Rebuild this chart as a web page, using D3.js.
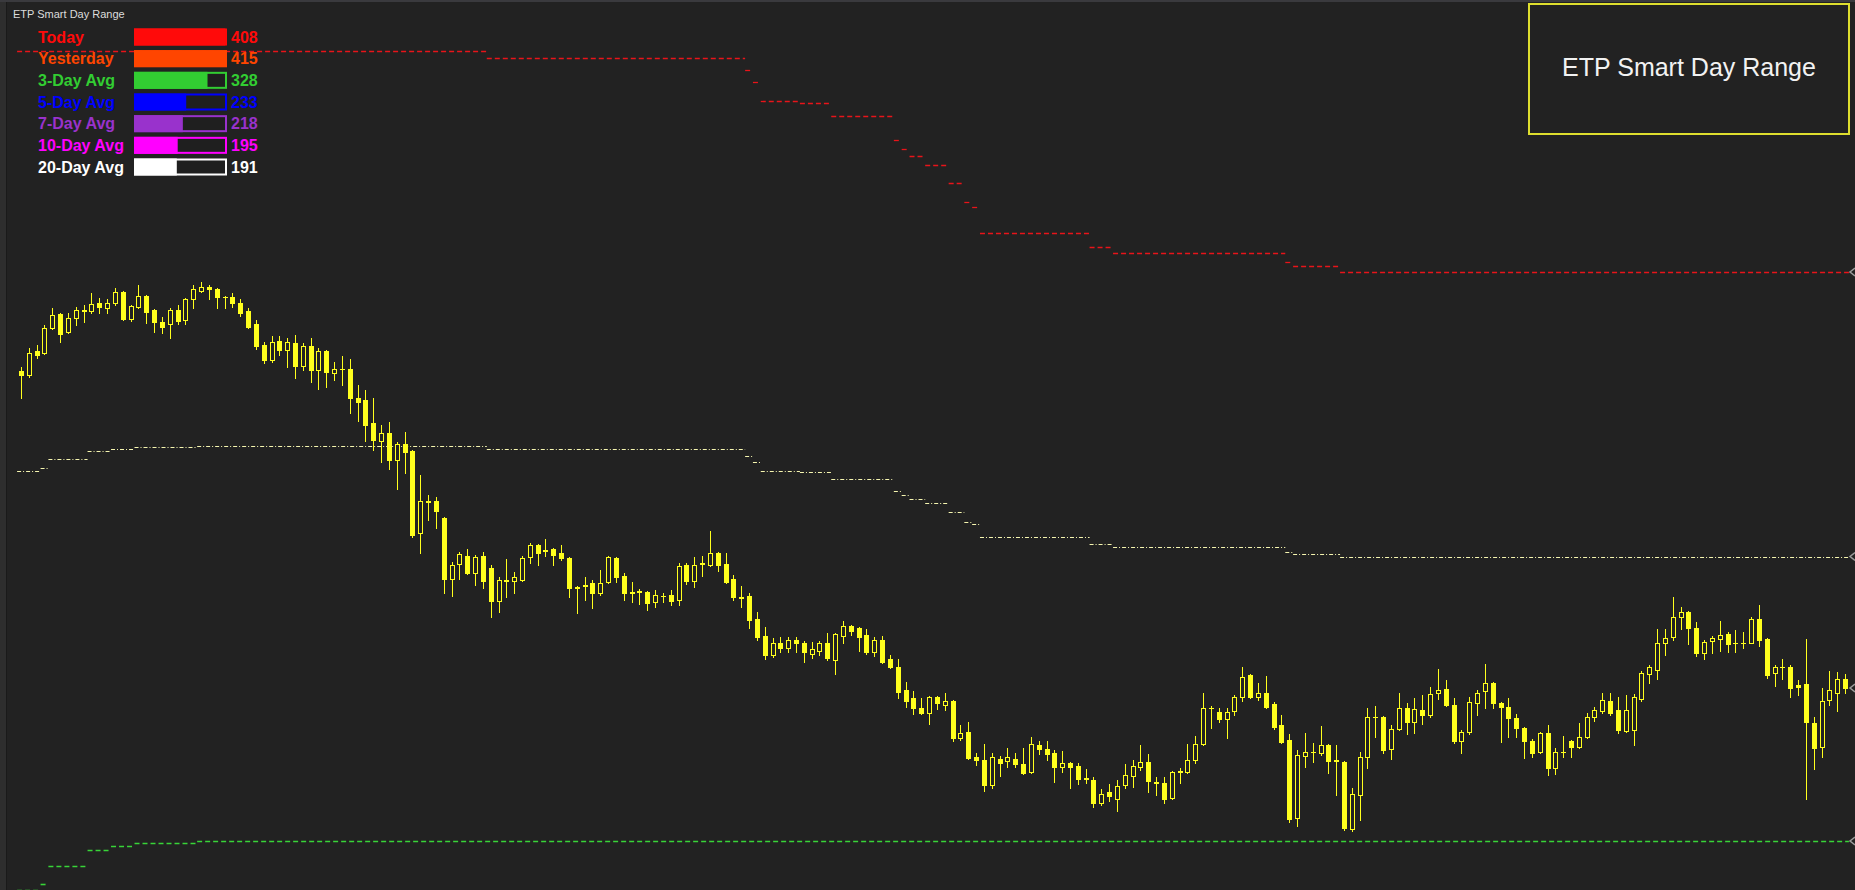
<!DOCTYPE html>
<html><head><meta charset="utf-8">
<script src="https://cdn.jsdelivr.net/npm/d3@7"></script>
<style>html,body{margin:0;padding:0;background:#222;overflow:hidden}</style>
</head><body>
<svg id="c" width="1855" height="890"></svg>
<script>
// ---- Candle data (price in points) ----
const opens = [
629,625,649,647,672,686,668,682,689,689,
697,692,697,708,681,693,704,690,678,676,
690,680,701,709,713,711,703,703,697,689,
676,655,640,659,650,657,634,654,630,649,
627,631,631,602,600,577,559,567,540,556,
549,467,499,499,482,421,436,444,427,444,
432,399,419,419,420,443,455,449,451,447,
442,413,414,417,407,418,442,424,408,408,
408,398,404,405,400,435,419,436,435,447,
436,421,403,404,381,364,345,357,352,360,
357,346,349,357,340,364,374,372,365,348,
360,341,333,310,302,292,287,303,295,299,
262,268,243,240,215,241,239,241,236,228,
255,251,247,233,237,234,222,220,197,208,
201,215,224,233,238,218,217,202,228,228,
240,256,292,288,281,289,303,325,303,307,
296,275,260,182,244,248,247,255,240,238,
171,205,243,283,283,251,271,292,278,290,
285,307,311,295,259,268,297,309,317,297,
293,282,272,259,248,267,232,248,259,253,
263,283,289,299,290,269,270,301,326,330,
357,363,383,388,372,347,359,361,366,357,
357,357,381,361,327,333,333,315,316,277,
253,300,307,321];
const highs = [
633,652,655,675,692,687,687,693,695,707,
702,701,712,709,695,715,705,691,683,692,
695,702,715,718,715,712,704,707,701,692,
680,658,664,664,662,665,657,662,652,650,
638,644,641,615,610,602,575,578,558,568,
550,525,505,503,483,438,448,451,445,448,
435,423,441,428,444,457,456,461,452,455,
443,414,423,420,430,444,443,427,418,411,
409,410,407,410,437,437,443,444,469,448,
447,425,414,407,388,373,362,363,363,363,
359,358,359,367,367,379,375,373,371,363,
364,345,341,318,309,302,304,304,307,300,
275,278,247,256,247,244,252,247,252,263,
259,259,250,249,238,237,231,223,211,216,
220,236,240,255,246,223,223,229,232,256,
264,307,294,292,292,305,333,326,317,324,
298,285,266,250,267,257,274,256,255,239,
212,248,292,294,284,275,307,297,302,305,
313,331,320,302,270,303,310,336,318,298,
302,286,273,261,268,275,252,264,260,277,
287,293,307,307,303,305,306,329,335,371,
371,403,393,389,378,360,364,379,368,370,
368,383,395,362,335,341,335,320,361,283,
312,329,328,326];
const lows = [
602,623,642,646,671,658,667,675,678,687,
687,687,695,680,679,692,677,668,667,662,
676,676,692,708,701,692,692,693,684,672,
651,637,638,645,633,622,630,618,611,613,
620,615,587,579,559,550,538,531,511,527,
463,447,480,472,407,404,421,426,415,412,
383,388,403,407,419,437,435,444,435,440,
403,387,400,392,405,417,418,400,398,396,
390,393,398,395,395,416,413,424,434,429,
417,400,393,372,360,341,343,348,348,348,
338,342,345,340,326,357,365,349,346,344,
337,332,302,293,286,286,276,291,290,259,
260,241,235,209,212,224,233,233,226,227,
246,240,218,228,212,216,217,193,195,199,
189,212,213,230,208,205,197,201,217,227,
237,255,272,278,262,285,299,302,300,292,
271,257,178,174,233,238,245,227,205,170,
169,180,232,263,247,241,270,266,267,276,
283,301,294,257,247,266,285,292,292,258,
263,263,242,243,247,225,226,243,243,252,
262,279,287,285,267,268,255,299,317,321,
345,360,371,356,344,341,347,349,348,348,
352,357,354,322,314,321,303,305,201,231,
243,295,289,307];
const closes = [
625,647,645,672,685,666,682,690,690,696,
693,697,708,681,694,704,688,678,673,690,
679,701,711,713,711,703,703,697,687,673,
654,640,658,650,658,634,654,630,649,628,
631,631,602,598,575,560,567,540,556,548,
465,499,498,489,421,435,446,427,443,419,
399,420,420,423,442,455,447,450,445,442,
412,412,415,407,417,443,423,407,407,409,
397,405,404,399,434,419,435,437,447,435,
418,403,402,380,363,345,357,352,360,357,
348,351,357,342,366,374,369,363,348,360,
338,333,308,299,292,287,303,297,299,262,
267,242,240,215,243,237,243,236,227,256,
251,246,233,237,233,221,221,197,206,204,
214,225,234,238,219,217,201,228,229,240,
256,292,292,281,288,303,323,303,307,293,
273,258,181,245,248,248,255,239,239,172,
206,243,283,283,250,271,292,278,291,285,
306,310,295,259,268,298,307,317,297,293,
282,272,259,247,267,232,248,248,253,263,
283,290,300,287,270,290,303,327,333,357,
362,383,388,372,347,358,362,365,356,357,
357,381,360,325,333,333,312,313,278,252,
299,310,321,312];

// ---- Indicator levels: [firstBar, lastBar, price] ----
const upperRuns = [[0,59,949],[60,92,942],[93,93,930],[94,94,918],[95,99,899],[100,103,897],
  [104,111,884],[112,112,860],[113,113,851],[114,115,844],[116,118,835],[119,120,817],
  [121,121,798],[122,122,793],[123,136,767],[137,139,753],[140,161,747],[162,162,738],
  [163,168,734],[169,233,728]];
const midRuns = [[0,2,529],[3,3,532.5],[4,8,541.5],[9,11,549.5],[12,14,551.5],[15,22,553],
  [23,59,554],[60,92,550.5],[93,93,544.5],[94,94,538.5],[95,99,529],[100,103,528],
  [104,111,521.5],[112,112,509.5],[113,113,505],[114,115,501.5],[116,118,497],[119,120,488],
  [121,121,478.5],[122,122,476],[123,136,463],[137,139,456],[140,161,453],[162,162,448.5],
  [163,168,446.5],[169,233,443.5]];
const lowerRuns = [[0,2,110],[3,3,116],[4,8,134],[9,11,150],[12,14,154],[15,22,157],[23,233,159]];

// ---- Legend ----
const legendLabels = ["Today","Yesterday","3-Day Avg","5-Day Avg","7-Day Avg","10-Day Avg","20-Day Avg"];
const legendValues = [408,415,328,233,218,195,191];
const legendColors = ["#ff0a0a","#ff4500","#32cd32","#0000ff","#9932cc","#ff00ff","#ffffff"];
const indicatorName = "ETP Smart Day Range";

// ---- Drawing ----
const W = 1855, H = 890, BG = "#222222", CANDLE = "#ffff1e";
const svg = d3.select("#c");
svg.append("rect").attr("width", W).attr("height", H).attr("fill", BG);

const n = opens.length;
const x = d3.scaleLinear().domain([0, n - 1]).range([21, 1845]);
const y = d3.scaleLinear().domain([110, 1000]).range([H, 0]);
const step = x(1) - x(0);
const px = v => Math.round(v) + 0.5;

// frame
svg.append("rect").attr("x",0).attr("y",0).attr("width",6).attr("height",H).attr("fill","#2e2e2e");
svg.append("line").attr("x1",6.5).attr("x2",6.5).attr("y1",0).attr("y2",H).attr("stroke","#1a1a1a");
svg.append("rect").attr("x",0).attr("y",0).attr("width",W).attr("height",2).attr("fill","#3a3a3e");

// indicator step lines
const lineGen = d3.line();
function drawRuns(runs, color, dash, width) {
  svg.append("g").selectAll("path").data(runs).join("path")
    .attr("d", r => lineGen([[x(r[0]) - step / 2, px(y(r[2]))], [x(r[1]) + step / 2, px(y(r[2]))]]))
    .attr("fill", "none").attr("stroke", color).attr("stroke-width", width)
    .attr("stroke-dasharray", dash);
}
drawRuns(upperRuns, "#e8141a", "5,3", 1.3);
drawRuns(midRuns, "#f6f6b0", "4,2,1,2", 1.2);
drawRuns(lowerRuns, "#38d438", "5,3", 1.6);

// candles
const idx = d3.range(n);
const cg = svg.append("g");
cg.selectAll("line").data(idx).join("line")
  .attr("x1", i => Math.round(x(i)) + 0.5).attr("x2", i => Math.round(x(i)) + 0.5)
  .attr("y1", i => Math.round(y(highs[i]))).attr("y2", i => Math.round(y(lows[i])) + 1)
  .attr("stroke", CANDLE).attr("stroke-width", 1);
cg.selectAll("rect").data(idx).join("rect")
  .each(function (i) {
    const cx = Math.round(x(i));
    const top = Math.round(y(Math.max(opens[i], closes[i])));
    const bot = Math.round(y(Math.min(opens[i], closes[i])));
    const bear = closes[i] < opens[i];
    const r = d3.select(this);
    if (bear || bot - top < 2) {
      r.attr("x", cx - 2).attr("y", top).attr("width", 5).attr("height", Math.max(1, bot - top + 1))
       .attr("fill", CANDLE);
    } else {
      r.attr("x", cx - 1.5).attr("y", top + 0.5).attr("width", 4).attr("height", bot - top)
       .attr("fill", BG).attr("stroke", CANDLE).attr("stroke-width", 1);
    }
  });

// right-edge markers
const ends = [upperRuns[upperRuns.length - 1][2], midRuns[midRuns.length - 1][2],
  lowerRuns[lowerRuns.length - 1][2], closes[n - 1]];
svg.append("g").selectAll("path").data(ends).join("path")
  .attr("d", v => { const yy = y(v); return `M1855,${yy - 4}L1850,${yy}L1855,${yy + 4}`; })
  .attr("fill", "none").attr("stroke", "#9a9a9a").attr("stroke-width", 1.5);

// small indicator name
svg.append("text").attr("x", 13).attr("y", 18).text(indicatorName)
  .attr("font-family", "'Liberation Sans', Arial, sans-serif").attr("font-size", 11).attr("fill", "#dcdcdc");

// legend
const rowY = d3.scalePoint().domain(legendLabels).range([37, 167]);
const barX = 134, barW = 93, barH = 17;
const bw = d3.scaleLinear().domain([0, d3.max(legendValues)]).range([0, barW]);
const lg = svg.append("g").attr("font-family", "'Liberation Sans', Arial, sans-serif")
  .attr("font-weight", "bold").attr("font-size", 16);
const rows = lg.selectAll("g").data(legendLabels).join("g");
rows.append("text").attr("x", 38).attr("y", d => rowY(d) + 5.7).text(d => d)
  .attr("fill", (d, i) => legendColors[i]);
rows.append("rect").attr("x", barX + 1).attr("y", d => rowY(d) - barH / 2 + 1)
  .attr("width", barW - 2).attr("height", barH - 2)
  .attr("fill", "#1f1f1f").attr("stroke", (d, i) => legendColors[i]).attr("stroke-width", 2);
rows.append("rect").attr("x", barX).attr("y", d => rowY(d) - barH / 2)
  .attr("width", (d, i) => bw(legendValues[i])).attr("height", barH)
  .attr("fill", (d, i) => legendColors[i]);
rows.append("text").attr("x", 231).attr("y", d => rowY(d) + 5.7).text((d, i) => legendValues[i])
  .attr("fill", (d, i) => legendColors[i]);

// title box
svg.append("rect").attr("x", 1529).attr("y", 4).attr("width", 320).attr("height", 130)
  .attr("fill", BG).attr("stroke", "#dede2e").attr("stroke-width", 2);
svg.append("text").attr("x", 1689).attr("y", 76).attr("text-anchor", "middle").text(indicatorName)
  .attr("font-family", "'Liberation Sans', Arial, sans-serif").attr("font-size", 25).attr("fill", "#f2f2f2");
</script>
</body></html>
